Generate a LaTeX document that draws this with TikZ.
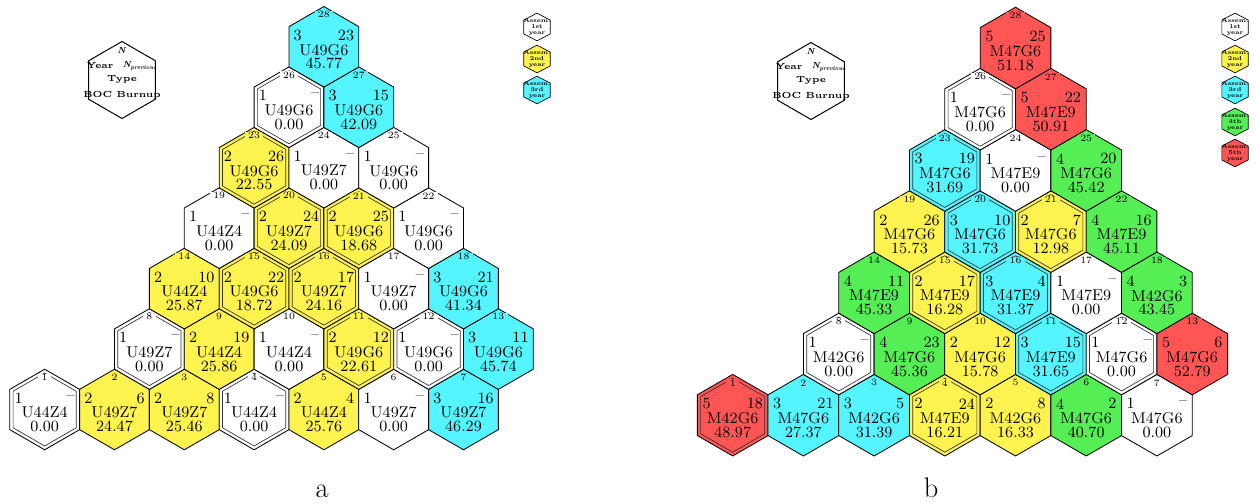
\documentclass[tikz,border=0pt]{standalone}
\usepackage{tikz}
\usetikzlibrary{shapes.geometric}

\definecolor{yr1}{RGB}{255,255,255}
\definecolor{yr2}{RGB}{255,243,80}
\definecolor{yr3}{RGB}{85,245,255}
\definecolor{yr4}{RGB}{85,238,85}
\definecolor{yr5}{RGB}{255,85,85}

% name, number, position, colour, rim, year, previous, type, burnup
\newcommand{\assem}[9]{%
  \node[cell, fill=#4] (#1) at (#3) {};
  \node[rim, #5] at (#1) {};
  \node[cellno, fill=#4] at ([yshift=19.4pt]#1.center) {#2};
  \node[cellyr] at ([xshift=-18.3pt, yshift=6.9pt]#1.center) {#6};
  \node[cellprev] at ([xshift=18.3pt, yshift=6.9pt]#1.center) {#7};
  \node[celltxt] at ([yshift=-1.8pt]#1.center) {#8};
  \node[celltxt] at ([yshift=-10.2pt]#1.center) {#9};
}

\begin{document}
\begin{tikzpicture}[x=0.6pt, y=-0.6pt,
  cell/.style={regular polygon, regular polygon sides=6, rotate=30, draw, line width=0.5pt, inner sep=0pt},
  rim/.style={regular polygon, regular polygon sides=6, rotate=30, inner sep=0pt},
  single/.style={},
  twin/.style={draw=black!80, line width=0.4pt},
  cellno/.style={font=\fontsize{5.8}{6}\selectfont, inner xsep=2pt, inner ysep=0.2pt},
  cellyr/.style={anchor=west, font=\fontsize{9.4}{10}\selectfont, inner sep=0pt},
  cellprev/.style={anchor=east, font=\fontsize{9.4}{10}\selectfont, inner sep=0pt},
  celltxt/.style={font=\fontsize{9.4}{10}\selectfont, inner sep=0pt},
  keyhex/.style={regular polygon, regular polygon sides=6, rotate=30, draw, line width=0.6pt, minimum size=46.2pt, inner sep=0pt},
  keytxt/.style={font=\fontsize{5.3}{6}\selectfont\bfseries, inner sep=0pt},
  leghex/.style={regular polygon, regular polygon sides=6, xscale=1.1, rotate=30, draw, line width=0.4pt, minimum size=16.6pt, inner sep=0pt},
  legtxt/.style={font=\fontsize{3.5}{3.7}\selectfont\bfseries, align=center, inner sep=0pt},
  caption/.style={font=\fontsize{17}{20}\selectfont, anchor=base}]
\useasboundingbox (0,0) rectangle (1257,504);

% panel a
\node[keyhex] (keya) at (122,80) {};
\node[keytxt] at ([yshift=18pt]keya.center) {\textit{N}};
\node[keytxt] at ([xshift=-13.2pt, yshift=8.4pt]keya.center) {Year};
\node[keytxt] at ([xshift=10.8pt, yshift=8.4pt]keya.center) {\textit{N\textsubscript{previous}}};
\node[keytxt] at ([yshift=0.6pt]keya.center) {Type};
\node[keytxt] at ([yshift=-9pt]keya.center) {BOC Burnup};

\node[leghex, fill=yr1] (lega1) at (537,27) {};
\node[leghex, fill=yr2] (lega2) at (537,59) {};
\node[leghex, fill=yr3] (lega3) at (537,90) {};
\node[legtxt] at (lega1) {Assem.\\1st\\year};
\node[legtxt] at (lega2) {Assem.\\2nd\\year};
\node[legtxt] at (lega3) {Assem.\\3rd\\year};

\begin{scope}[shift={(44.7,409.5)}, x=41.88pt, y=36.27pt,
  cell/.append style={minimum size=48.36pt}, rim/.append style={minimum size=43.8pt}]
\assem{a1}{1}{0,0}{yr1}{twin}{1}{--}{U44Z4}{0.00}
\assem{a2}{2}{1,0}{yr2}{single}{2}{6}{U49Z7}{24.47}
\assem{a3}{3}{2,0}{yr2}{single}{2}{8}{U49Z7}{25.46}
\assem{a4}{4}{3,0}{yr1}{twin}{1}{--}{U44Z4}{0.00}
\assem{a5}{5}{4,0}{yr2}{single}{2}{4}{U44Z4}{25.76}
\assem{a6}{6}{5,0}{yr1}{single}{1}{--}{U49Z7}{0.00}
\assem{a7}{7}{6,0}{yr3}{single}{3}{16}{U49Z7}{46.29}
\assem{a8}{8}{1.5,1}{yr1}{twin}{1}{--}{U49Z7}{0.00}
\assem{a9}{9}{2.5,1}{yr2}{single}{2}{19}{U44Z4}{25.86}
\assem{a10}{10}{3.5,1}{yr1}{single}{1}{--}{U44Z4}{0.00}
\assem{a11}{11}{4.5,1}{yr2}{twin}{2}{12}{U49G6}{22.61}
\assem{a12}{12}{5.5,1}{yr1}{twin}{1}{--}{U49G6}{0.00}
\assem{a13}{13}{6.5,1}{yr3}{single}{3}{11}{U49G6}{45.74}
\assem{a14}{14}{2,2}{yr2}{single}{2}{10}{U44Z4}{25.87}
\assem{a15}{15}{3,2}{yr2}{twin}{2}{22}{U49G6}{18.72}
\assem{a16}{16}{4,2}{yr2}{twin}{2}{17}{U49Z7}{24.16}
\assem{a17}{17}{5,2}{yr1}{single}{1}{--}{U49Z7}{0.00}
\assem{a18}{18}{6,2}{yr3}{single}{3}{21}{U49G6}{41.34}
\assem{a19}{19}{2.5,3}{yr1}{single}{1}{--}{U44Z4}{0.00}
\assem{a20}{20}{3.5,3}{yr2}{twin}{2}{24}{U49Z7}{24.09}
\assem{a21}{21}{4.5,3}{yr2}{twin}{2}{25}{U49G6}{18.68}
\assem{a22}{22}{5.5,3}{yr1}{single}{1}{--}{U49G6}{0.00}
\assem{a23}{23}{3,4}{yr2}{twin}{2}{26}{U49G6}{22.55}
\assem{a24}{24}{4,4}{yr1}{single}{1}{--}{U49Z7}{0.00}
\assem{a25}{25}{5,4}{yr1}{single}{1}{--}{U49G6}{0.00}
\assem{a26}{26}{3.5,5}{yr1}{twin}{1}{--}{U49G6}{0.00}
\assem{a27}{27}{4.5,5}{yr3}{single}{3}{15}{U49G6}{42.09}
\assem{a28}{28}{4,6}{yr3}{single}{3}{23}{U49G6}{45.77}
\end{scope}
\node[caption] (capa) at (322,497) {a};

% panel b
\node[keyhex] (keyb) at (811,81) {};
\node[keytxt] at ([yshift=18pt]keyb.center) {\textit{N}};
\node[keytxt] at ([xshift=-13.2pt, yshift=8.4pt]keyb.center) {Year};
\node[keytxt] at ([xshift=10.8pt, yshift=8.4pt]keyb.center) {\textit{N\textsubscript{previous}}};
\node[keytxt] at ([yshift=0.6pt]keyb.center) {Type};
\node[keytxt] at ([yshift=-9pt]keyb.center) {BOC Burnup};

\node[leghex, fill=yr1] (legb1) at (1235,27) {};
\node[leghex, fill=yr2] (legb2) at (1235,59) {};
\node[leghex, fill=yr3] (legb3) at (1235,90) {};
\node[leghex, fill=yr4] (legb4) at (1235,122) {};
\node[leghex, fill=yr5] (legb5) at (1235,153) {};
\node[legtxt] at (legb1) {Assem.\\1st\\year};
\node[legtxt] at (legb2) {Assem.\\2nd\\year};
\node[legtxt] at (legb3) {Assem.\\3rd\\year};
\node[legtxt] at (legb4) {Assem.\\4th\\year};
\node[legtxt] at (legb5) {Assem.\\5th\\year};

\begin{scope}[shift={(732.7,415.2)}, x=42.42pt, y=36.72pt,
  cell/.append style={minimum size=48.96pt}, rim/.append style={minimum size=44.4pt}]
\assem{b1}{1}{0,0}{yr5}{twin}{5}{18}{M42G6}{48.97}
\assem{b2}{2}{1,0}{yr3}{single}{3}{21}{M47G6}{27.37}
\assem{b3}{3}{2,0}{yr3}{single}{3}{5}{M42G6}{31.39}
\assem{b4}{4}{3,0}{yr2}{twin}{2}{24}{M47E9}{16.21}
\assem{b5}{5}{4,0}{yr2}{single}{2}{8}{M42G6}{16.33}
\assem{b6}{6}{5,0}{yr4}{single}{4}{2}{M47G6}{40.70}
\assem{b7}{7}{6,0}{yr1}{single}{1}{--}{M47G6}{0.00}
\assem{b8}{8}{1.5,1}{yr1}{twin}{1}{--}{M42G6}{0.00}
\assem{b9}{9}{2.5,1}{yr4}{single}{4}{23}{M47G6}{45.36}
\assem{b10}{10}{3.5,1}{yr2}{single}{2}{12}{M47G6}{15.78}
\assem{b11}{11}{4.5,1}{yr3}{twin}{3}{15}{M47E9}{31.65}
\assem{b12}{12}{5.5,1}{yr1}{twin}{1}{--}{M47G6}{0.00}
\assem{b13}{13}{6.5,1}{yr5}{single}{5}{6}{M47G6}{52.79}
\assem{b14}{14}{2,2}{yr4}{single}{4}{11}{M47E9}{45.33}
\assem{b15}{15}{3,2}{yr2}{twin}{2}{17}{M47E9}{16.28}
\assem{b16}{16}{4,2}{yr3}{twin}{3}{4}{M47E9}{31.37}
\assem{b17}{17}{5,2}{yr1}{single}{1}{--}{M47E9}{0.00}
\assem{b18}{18}{6,2}{yr4}{single}{4}{3}{M42G6}{43.45}
\assem{b19}{19}{2.5,3}{yr2}{single}{2}{26}{M47G6}{15.73}
\assem{b20}{20}{3.5,3}{yr3}{twin}{3}{10}{M47G6}{31.73}
\assem{b21}{21}{4.5,3}{yr2}{twin}{2}{7}{M47G6}{12.98}
\assem{b22}{22}{5.5,3}{yr4}{single}{4}{16}{M47E9}{45.11}
\assem{b23}{23}{3,4}{yr3}{twin}{3}{19}{M47G6}{31.69}
\assem{b24}{24}{4,4}{yr1}{single}{1}{--}{M47E9}{0.00}
\assem{b25}{25}{5,4}{yr4}{single}{4}{20}{M47G6}{45.42}
\assem{b26}{26}{3.5,5}{yr1}{twin}{1}{--}{M47G6}{0.00}
\assem{b27}{27}{4.5,5}{yr5}{single}{5}{22}{M47E9}{50.91}
\assem{b28}{28}{4,6}{yr5}{single}{5}{25}{M47G6}{51.18}
\end{scope}
\node[caption] (capb) at (931,497) {b};
\end{tikzpicture}
\end{document}
